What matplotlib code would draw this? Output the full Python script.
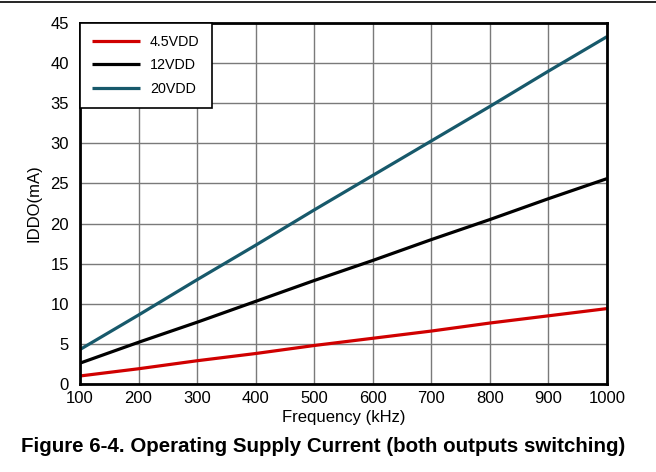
import matplotlib
matplotlib.use('Agg')
import matplotlib.pyplot as plt
from matplotlib.lines import Line2D

# Données
freq_khz = [100, 200, 300, 400, 500, 600, 700, 800, 900, 1000]
i_4v5 = [1.0, 1.9, 2.9, 3.8, 4.8, 5.7, 6.6, 7.6, 8.5, 9.4]
i_12v = [2.6, 5.2, 7.7, 10.3, 12.9, 15.4, 18.0, 20.5, 23.1, 25.6]
i_20v = [4.3, 8.6, 13.0, 17.3, 21.7, 26.0, 30.3, 34.6, 39.0, 43.3]
labels = ['4.5VDD', '12VDD', '20VDD']
colors = ['#d00000', '#000000', '#17596b']

plt.rcParams['font.family'] = ['Liberation Sans', 'DejaVu Sans']

fig = plt.figure(figsize=(6.56, 4.72), dpi=100)
ax = fig.add_axes([80 / 656, 1 - 384 / 472, 527 / 656, 361 / 472])

for ys, lab, c in zip([i_4v5, i_12v, i_20v], labels, colors):
    ax.plot(freq_khz, ys, color=c, lw=2.3, label=lab, solid_capstyle='butt')

ax.set_xlim(100, 1000)
ax.set_ylim(0, 45)
ax.set_xticks(range(100, 1001, 100))
ax.set_yticks(range(0, 46, 5))
ax.grid(True, color='#7a7a7a', lw=1.0)
ax.set_axisbelow(True)
for s in ax.spines.values():
    s.set_linewidth(2)
    s.set_color('black')
ax.tick_params(length=0, labelsize=12)
ax.tick_params(axis='x', pad=5)
ax.tick_params(axis='y', pad=8)

ax.set_xlabel('Frequency (kHz)', fontsize=12, labelpad=3)
ax.set_ylabel('IDDO(mA)', fontsize=12, labelpad=6)

leg = ax.legend(loc='upper left', fontsize=10.3, frameon=True, fancybox=False,
                borderaxespad=0, handlelength=3.35, handletextpad=0.7,
                borderpad=0.85, labelspacing=0.65)
leg.get_frame().set_edgecolor('black')
leg.get_frame().set_linewidth(1.2)
leg.get_frame().set_alpha(1)

fig.add_artist(Line2D([0, 1], [0.995, 0.995], color='black', lw=1.2))
fig.text(0.492, 1 - 447 / 472, 'Figure 6-4. Operating Supply Current (both outputs switching)',
         ha='center', va='center', fontsize=14.8, fontweight='bold')

fig.savefig('out.png', dpi=100)
